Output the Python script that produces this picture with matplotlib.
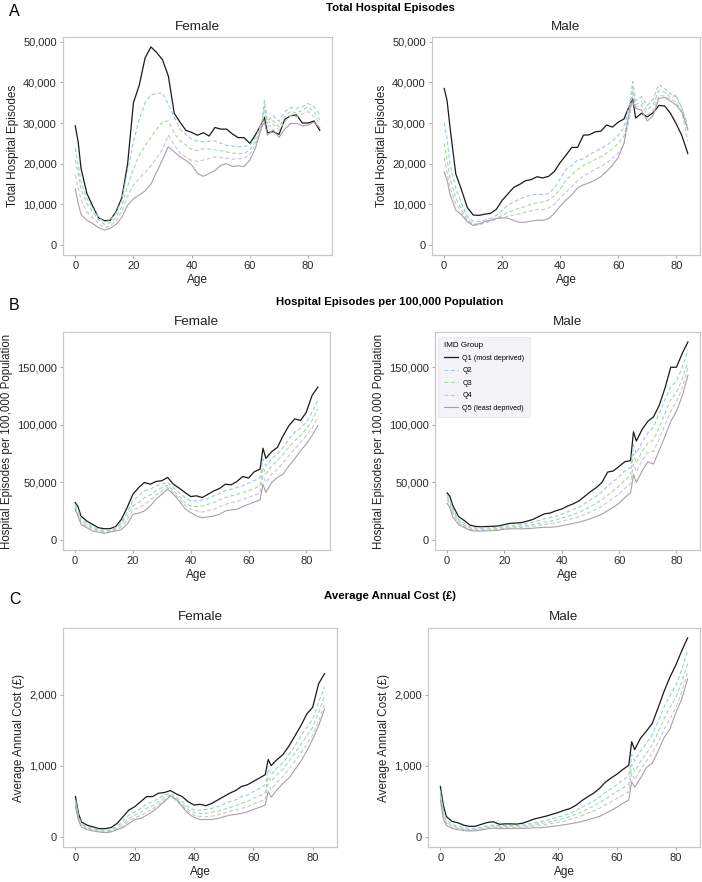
import numpy as np
import matplotlib
matplotlib.use("Agg")
import matplotlib.pyplot as plt
from matplotlib.ticker import FuncFormatter
from matplotlib.lines import Line2D

plt.rcParams['font.family'] = ['Liberation Sans', 'DejaVu Sans']

ages = [0, 1, 2, 4, 6, 8, 10, 12, 14, 16, 18, 20, 22, 24, 26, 28, 30, 32, 34, 36, 38,
        40, 42, 44, 46, 48, 50, 52, 54, 56, 58, 60, 62, 64, 65, 66, 68, 70, 72, 74,
        76, 78, 80, 82, 84]

groups = ["Q1 (most deprived)", "Q2", "Q3", "Q4", "Q5 (least deprived)"]

# ---- Panel A: Total hospital episodes (thousands) ----
a_female_q1 = [29.3, 25.4, 18.8, 12.7, 9.6, 6.7, 6.0, 6.1, 8.2, 11.6, 20.0, 35.0, 39.3, 46.0, 48.7, 47.3, 45.5, 41.5, 32.4, 30.2, 28.2,
               27.7, 27.0, 27.6, 26.8, 28.9, 28.5, 28.5, 27.3, 26.4, 26.4, 25.0, 27.2, 29.8, 31.4, 27.6, 27.9, 27.2, 30.9, 31.8,
               32.0, 30.0, 30.0, 30.5, 28.2]
a_female_q2 = [23.8, 20.0, 15.5, 11.5, 9.0, 6.8, 5.7, 6.0, 7.9, 11.0, 18.5, 25.2, 31.0, 35.0, 36.9, 37.3, 37.4, 34.5, 31.5, 28.5, 27.2,
               26.0, 25.6, 25.4, 25.5, 25.6, 25.0, 24.5, 24.3, 24.2, 24.2, 24.6, 26.4, 30.0, 35.5, 30.5, 31.8, 30.4, 32.8, 33.8,
               33.6, 34.0, 34.8, 34.0, 32.0]
a_female_q3 = [20.9, 17.5, 13.8, 10.2, 8.2, 6.2, 5.1, 5.5, 6.8, 9.5, 14.5, 18.8, 22.1, 24.5, 26.5, 28.5, 30.3, 30.5, 27.5, 25.6, 24.6,
               23.5, 23.2, 23.7, 23.6, 23.4, 23.2, 22.9, 22.6, 22.5, 22.5, 23.4, 25.6, 29.0, 34.2, 30.0, 30.6, 29.0, 31.5, 32.9,
               32.4, 33.2, 34.0, 32.8, 30.7]
a_female_q4 = [17.2, 14.2, 11.2, 8.2, 6.7, 5.4, 4.3, 4.7, 6.0, 8.2, 12.0, 14.8, 16.4, 17.9, 19.5, 21.5, 23.5, 27.0, 24.6, 22.6, 21.6,
               20.8, 20.6, 20.9, 21.3, 21.7, 21.5, 21.3, 21.1, 21.2, 21.3, 22.3, 24.9, 28.5, 33.0, 29.0, 29.8, 28.3, 30.4, 31.8,
               31.6, 32.2, 32.8, 31.6, 29.9]
a_female_q5 = [13.9, 10.3, 7.5, 6.1, 5.3, 4.3, 3.7, 4.1, 5.1, 6.8, 9.8, 11.4, 12.3, 13.3, 15.0, 18.0, 21.0, 24.2, 22.9, 21.7, 20.8,
               19.7, 17.6, 16.9, 17.6, 18.3, 19.6, 20.0, 19.3, 19.5, 19.3, 20.9, 24.0, 29.0, 30.2, 27.0, 28.3, 26.5, 28.5, 29.9,
               29.9, 29.3, 29.5, 30.2, 28.8]

a_male_q1 = [38.5, 35.5, 29.0, 17.5, 13.5, 9.2, 7.4, 7.3, 7.6, 7.8, 8.8, 11.0, 12.6, 14.2, 14.9, 15.8, 16.1, 16.8, 16.5, 16.9, 18.1,
             20.3, 22.1, 24.0, 24.0, 27.0, 27.1, 27.8, 28.0, 29.5, 29.0, 30.2, 31.0, 34.5, 36.0, 31.2, 32.4, 31.5, 32.5, 34.3,
             34.2, 32.4, 29.8, 26.8, 22.5]
a_male_q2 = [30.0, 26.0, 20.0, 13.9, 10.2, 7.0, 5.9, 5.8, 6.1, 6.6, 7.3, 8.5, 9.8, 10.6, 11.3, 11.9, 12.3, 12.5, 12.4, 12.7, 14.0,
             16.3, 18.7, 19.5, 20.9, 21.2, 22.2, 23.0, 23.7, 24.5, 25.6, 27.0, 28.9, 35.0, 40.2, 35.5, 36.5, 34.3, 35.8, 39.5,
             38.5, 37.2, 36.5, 33.5, 29.5]
a_male_q3 = [25.0, 21.0, 16.5, 11.5, 8.8, 6.2, 5.2, 5.2, 5.6, 6.1, 6.6, 7.3, 8.0, 8.6, 9.1, 9.5, 10.0, 10.4, 10.6, 11.1, 12.1,
             13.8, 16.0, 17.3, 18.6, 19.6, 20.3, 21.0, 21.7, 22.6, 23.6, 25.0, 26.8, 33.0, 38.9, 34.5, 35.2, 33.1, 34.5, 38.0,
             37.6, 36.3, 36.9, 33.5, 28.0]
a_male_q4 = [21.5, 17.8, 14.0, 10.2, 8.0, 5.9, 5.0, 5.0, 5.4, 5.9, 6.4, 6.7, 7.1, 7.4, 7.7, 8.1, 8.4, 8.8, 8.7, 9.1, 10.0,
             11.6, 13.0, 14.3, 15.9, 17.0, 17.8, 18.6, 19.3, 20.2, 21.3, 22.6, 25.0, 31.5, 37.3, 34.0, 34.4, 32.0, 33.0, 36.8,
             36.6, 35.8, 35.2, 32.5, 25.5]
a_male_q5 = [18.0, 16.0, 12.5, 8.6, 7.4, 5.7, 4.8, 5.2, 5.8, 6.1, 6.6, 6.7, 6.6, 6.0, 5.6, 5.6, 5.9, 6.1, 6.1, 6.5, 7.8,
             9.6, 11.1, 12.3, 14.1, 14.8, 15.3, 16.0, 16.8, 18.1, 19.6, 21.5, 25.0, 33.5, 35.2, 33.6, 33.2, 30.5, 31.8, 36.0,
             36.3, 35.4, 34.4, 32.6, 28.5]

# ---- Panel B: Hospital episodes per 100,000 population (thousands) ----
b_female_q1 = [32.6, 29.1, 20.9, 16.6, 13.7, 10.8, 9.9, 9.9, 11.6, 18.0, 28.2, 39.8, 45.6, 50.0, 48.5, 50.9, 51.5, 54.4, 48.5, 45.1, 41.3,
               37.8, 38.4, 36.9, 39.8, 42.7, 44.8, 48.5, 48.0, 50.9, 55.2, 53.8, 59.3, 61.6, 79.7, 70.9, 76.7, 80.5, 90.7, 99.4,
               105.2, 103.8, 111.0, 125.6, 132.8]
b_female_q2 = [31.1, 26.7, 18.6, 15.1, 11.6, 9.3, 8.7, 8.7, 10.8, 15.1, 24.4, 34.0, 38.4, 42.7, 44.2, 47.1, 48.5, 50.0, 45.6, 41.3, 36.9,
               34.0, 34.0, 34.9, 36.0, 38.4, 40.7, 42.7, 44.2, 45.6, 47.1, 49.4, 51.5, 54.4, 70.3, 64.5, 70.3, 74.7, 80.5, 87.8,
               93.6, 97.1, 102.3, 111.0, 121.2]
b_female_q3 = [29.7, 24.4, 16.6, 13.4, 10.5, 8.4, 7.6, 7.8, 9.9, 13.4, 20.9, 29.7, 32.6, 36.9, 39.2, 42.7, 45.6, 47.7, 42.7, 38.4, 32.6,
               29.7, 29.1, 29.7, 31.1, 32.6, 34.9, 36.9, 38.4, 39.8, 41.3, 42.7, 44.8, 47.1, 63.1, 57.3, 64.5, 68.9, 74.7, 80.5,
               86.3, 90.7, 96.5, 103.8, 114.0]
b_female_q4 = [28.2, 22.7, 15.1, 11.6, 9.3, 7.6, 6.7, 7.3, 8.7, 11.3, 17.4, 26.2, 27.9, 31.1, 34.9, 39.0, 42.7, 45.6, 41.3, 36.0, 30.2,
               26.7, 25.3, 24.4, 25.6, 26.7, 29.1, 31.1, 32.6, 33.4, 35.5, 36.9, 39.0, 40.7, 55.8, 50.0, 57.3, 61.6, 67.4, 73.3,
               79.1, 84.9, 90.7, 97.1, 106.7]
b_female_q5 = [26.7, 20.9, 13.7, 10.8, 7.8, 7.0, 5.8, 7.0, 7.8, 9.3, 13.7, 22.4, 23.3, 25.3, 29.7, 35.5, 39.8, 44.2, 39.8, 34.0, 27.3,
               23.8, 20.9, 19.5, 20.1, 20.9, 22.4, 25.3, 26.2, 26.7, 29.1, 31.1, 33.1, 34.9, 48.5, 41.3, 50.0, 54.4, 57.3, 64.5,
               70.3, 77.6, 83.4, 90.7, 99.4]

b_male_q1 = [41, 38, 30, 20.5, 17, 13, 11.8, 11.6, 11.8, 12, 12.3, 13.5, 14.5, 14.8, 15.2, 16.5, 18, 20.5, 22.8, 23.5, 25.5,
             27, 29.5, 31.5, 34, 38, 42, 45.5, 50, 59, 60, 64, 68, 69, 94, 86, 96, 103, 107, 117,
             132, 150, 150, 162, 172]
b_male_q2 = [39, 35, 27, 18, 14.5, 11.5, 10.5, 10.3, 10.5, 10.8, 11, 12, 12.5, 13, 13.5, 14.5, 15.5, 17, 18.5, 19.5, 21,
             22.5, 24.5, 26.5, 28.5, 31.5, 35, 38, 42, 47, 51, 55, 60, 63, 83, 75, 85, 93, 98, 110,
             122, 133, 138, 150, 165]
b_male_q3 = [37, 33, 25, 16.5, 13, 10.5, 9.5, 9.3, 9.5, 9.8, 10, 11, 11.3, 11.8, 12, 12.8, 13.5, 14.5, 15.5, 16.5, 17.5,
             19, 20.5, 22, 24, 26.5, 29, 32, 35, 39, 43, 47, 52, 56, 75, 67, 77, 84, 87, 98,
             110, 122, 128, 140, 155]
b_male_q4 = [35, 31, 23, 15, 12, 9.5, 8.7, 8.5, 8.8, 9, 9.2, 10.2, 10.5, 10.8, 11, 11.5, 12, 12.8, 13.5, 14.3, 15,
             16.2, 17.5, 18.8, 20.3, 22.3, 24.5, 27, 29.5, 33, 36.5, 40, 45, 49, 66, 59, 69, 76, 77, 88,
             100, 112, 120, 132, 150]
b_male_q5 = [32, 28, 20, 13.5, 11, 8.5, 7.8, 7.8, 8, 8.3, 8.5, 9.5, 9.8, 9.8, 9.8, 10, 10.3, 10.8, 11, 11.2, 11.5,
             12.5, 13.5, 14.5, 15.5, 17, 18.5, 20.5, 22.5, 25.5, 28.5, 32, 37, 41, 57, 50, 60, 68, 66, 78,
             90, 103, 112, 125, 143]

# ---- Panel C: Average annual cost (GBP) ----
c_female_q1 = [569, 332, 213, 166, 142, 118, 118, 133, 190, 284, 379, 427, 498, 569, 569, 616, 626, 654, 607, 569, 498,
               450, 460, 441, 474, 521, 569, 616, 654, 711, 735, 782, 829, 877, 1090, 1005, 1090, 1161, 1280, 1422,
               1564, 1730, 1825, 2156, 2299]
c_female_q2 = [521, 294, 190, 142, 118, 95, 95, 104, 152, 227, 308, 355, 403, 464, 498, 545, 592, 616, 559, 498, 427,
               379, 379, 389, 403, 427, 464, 498, 521, 569, 592, 640, 687, 735, 948, 877, 972, 1043, 1161, 1280,
               1422, 1540, 1659, 1896, 2109]
c_female_q3 = [498, 275, 175, 128, 109, 90, 85, 95, 133, 190, 261, 308, 346, 403, 441, 498, 559, 592, 531, 464, 389,
               341, 332, 332, 346, 365, 389, 417, 441, 474, 498, 545, 578, 616, 853, 782, 877, 957, 1066, 1185,
               1303, 1422, 1540, 1754, 1991]
c_female_q4 = [464, 256, 156, 114, 95, 81, 71, 81, 114, 156, 223, 275, 299, 351, 393, 460, 526, 583, 512, 441, 360,
               308, 289, 284, 294, 313, 336, 360, 379, 403, 427, 464, 498, 531, 749, 664, 773, 853, 957, 1066,
               1185, 1303, 1431, 1635, 1872]
c_female_q5 = [427, 237, 142, 104, 85, 71, 62, 71, 104, 133, 190, 246, 261, 308, 355, 427, 498, 578, 531, 427, 332,
               275, 246, 246, 246, 261, 284, 308, 318, 332, 355, 389, 417, 450, 640, 559, 664, 758, 829, 948,
               1066, 1209, 1374, 1564, 1801]

c_male_q1 = [711, 450, 290, 220, 200, 165, 150, 152, 180, 205, 215, 180, 185, 185, 182, 195, 225, 255, 275, 295, 320,
             345, 375, 400, 445, 510, 565, 615, 680, 770, 830, 885, 950, 1010, 1340, 1230, 1390, 1490, 1600, 1820,
             2050, 2250, 2420, 2620, 2800]
c_male_q2 = [654, 380, 250, 175, 155, 130, 120, 122, 140, 160, 170, 160, 162, 162, 162, 170, 185, 200, 215, 235, 255,
             280, 305, 335, 370, 415, 460, 505, 560, 625, 680, 740, 800, 860, 1160, 1070, 1210, 1320, 1440, 1630,
             1830, 1990, 2130, 2350, 2630]
c_male_q3 = [616, 340, 220, 155, 135, 115, 105, 108, 125, 145, 155, 148, 150, 150, 150, 155, 165, 178, 190, 205, 222,
             240, 262, 290, 320, 355, 395, 435, 480, 535, 585, 640, 690, 740, 1020, 925, 1065, 1175, 1300, 1480,
             1660, 1825, 1965, 2180, 2440]
c_male_q4 = [569, 300, 195, 140, 120, 102, 95, 98, 112, 130, 140, 135, 137, 137, 137, 140, 148, 158, 167, 178, 192,
             207, 225, 248, 272, 300, 333, 368, 405, 452, 495, 545, 590, 635, 900, 805, 950, 1065, 1185, 1335,
             1515, 1665, 1825, 2040, 2320]
c_male_q5 = [521, 250, 165, 120, 105, 90, 85, 88, 100, 115, 125, 120, 120, 120, 120, 122, 125, 130, 133, 140, 150,
             160, 172, 185, 200, 218, 240, 265, 290, 330, 375, 420, 475, 520, 780, 700, 830, 980, 1040, 1210,
             1400, 1520, 1750, 1940, 2225]

# ---- styles ----
colors = ["#1a1a1a", "#9ccbe0", "#a6d99e", "#cbc2d9", "#aaa0aa"]
styles = ["-", (0, (3.5, 2.2)), (0, (3.5, 2.2)), (0, (3.5, 2.2)), "-"]
widths = [0.9, 0.8, 0.8, 0.8, 0.8]

W, H = 702, 882
fig = plt.figure(figsize=(W / 100, H / 100), dpi=100)
fig.patch.set_facecolor("white")


def rect(l, t, r, b):
    return [l / W, 1 - b / H, (r - l) / W, (b - t) / H]


comma = FuncFormatter(lambda v, p: f"{int(round(v)):,}")

rows = [
    ("A", "Total Hospital Episodes", "Total Hospital Episodes", 1000,
     [a_female_q1, a_female_q2, a_female_q3, a_female_q4, a_female_q5],
     [a_male_q1, a_male_q2, a_male_q3, a_male_q4, a_male_q5],
     [0, 10000, 20000, 30000, 40000, 50000],
     (63, 37, 332, 255), (432, 37, 700, 255), 8, 27, 8.5),
    ("B", "Hospital Episodes per 100,000 Population", "Hospital Episodes per 100,000 Population", 1000,
     [b_female_q1, b_female_q2, b_female_q3, b_female_q4, b_female_q5],
     [b_male_q1, b_male_q2, b_male_q3, b_male_q4, b_male_q5],
     [0, 50000, 100000, 150000],
     (63, 332, 330, 550), (435, 332, 700, 550), 302, 322, 8.3),
    ("C", "Average Annual Cost (£)", "Average Annual Cost (£)", 1,
     [c_female_q1, c_female_q2, c_female_q3, c_female_q4, c_female_q5],
     [c_male_q1, c_male_q2, c_male_q3, c_male_q4, c_male_q5],
     [0, 1000, 2000],
     (63, 628, 337, 847), (428, 628, 700, 847), 596, 617, 8.5),
]

x = np.array(ages)
for letter, title, ylab, scale, fem, mal, yt, rf, rm, ty, sy, ylfs in rows:
    allv = np.concatenate([np.array(s) * scale for s in fem + mal])
    hi = allv.max()
    pad = 0.05 * hi
    fig.text(390 / W, 1 - ty / H, title, ha="center", va="center",
             fontsize=8.2, fontweight="bold", color="black")
    fig.text(9 / W, 1 - (ty + 4) / H, letter, ha="left", va="center",
             fontsize=11.5, color="black")
    for panel, series, r in (("Female", fem, rf), ("Male", mal, rm)):
        ax = fig.add_axes(rect(*r))
        for i, s in enumerate(series):
            ax.plot(x, np.array(s) * scale, color=colors[i], linestyle=styles[i],
                    linewidth=widths[i], label=groups[i])
        ax.set_xlim(-4.2, 88.2)
        ax.set_ylim(-pad, hi + pad)
        ax.set_xticks([0, 20, 40, 60, 80])
        ax.set_yticks(yt)
        ax.yaxis.set_major_formatter(comma)
        for sp in ax.spines.values():
            sp.set_color("#c8c8c8")
            sp.set_linewidth(0.9)
        ax.tick_params(axis="both", length=2.5, width=0.6, color="#9a9a9a",
                       labelsize=8, labelcolor="#2a2a2a", pad=2)
        ax.set_xlabel("Age", fontsize=8.5, color="#222222", labelpad=2)
        ax.set_ylabel(ylab, fontsize=ylfs, color="#222222", labelpad=3)
        cx = (r[0] + r[2]) / 2
        fig.text(cx / W, 1 - sy / H, panel, ha="center", va="center",
                 fontsize=9.7, color="#222222")
        if letter == "B" and panel == "Male":
            handles = [Line2D([0], [0], color=colors[i], linestyle=styles[i],
                              linewidth=widths[i]) for i in range(5)]
            leg = ax.legend(handles, groups, title="IMD Group", loc="upper left",
                            bbox_to_anchor=(0.005, 0.985), fontsize=5.2,
                            title_fontsize=5.8, frameon=True, handlelength=2.0,
                            handletextpad=0.6, labelspacing=0.75, borderpad=0.7,
                            borderaxespad=0.3)
            leg._legend_box.align = "left"
            fr = leg.get_frame()
            fr.set_facecolor("#f2f0f5")
            fr.set_edgecolor("#e6e3ea")
            fr.set_linewidth(0.6)
            fr.set_boxstyle("square", pad=0)

fig.savefig("out.png", dpi=100, facecolor="white")
